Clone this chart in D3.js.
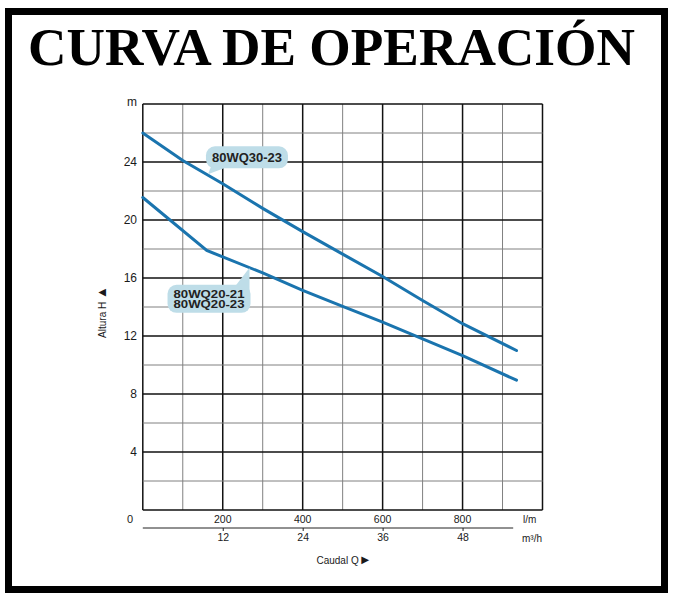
<!DOCTYPE html>
<html>
<head>
  <meta charset="utf-8">
  <title>Curva de operación</title>
  <style>
    body { margin: 0; background: #fff; }
    text { font-family: "Liberation Sans", Arial, sans-serif; fill: #1a1a1a; }
  </style>
</head>
<body>
<svg width="675" height="600" class="svg-chart"></svg>
<script src="https://cdnjs.cloudflare.com/ajax/libs/d3/7.8.5/d3.min.js"></script>
<script type="text/javascript">
  // curve data, flow in l/min, head in m
  var q30 = [0, 100, 200, 300, 400, 500, 600, 700, 800, 935]
  var h30 = [26.0, 24.1, 22.5, 20.8, 19.2, 17.65, 16.1, 14.45, 12.85, 11.0]
  var q20 = [0, 160, 200, 300, 400, 500, 600, 700, 800, 935]
  var h20 = [21.55, 17.9, 17.45, 16.35, 15.15, 14.05, 12.95, 11.8, 10.65, 8.95]

  var lpmTicks = [200, 400, 600, 800]
  var m3hTicks = [12, 24, 36, 48]
  var headTicks = [4, 8, 12, 16, 20, 24]

  var svg = d3.select('.svg-chart')

  // outer frame
  svg.append('rect')
    .attr('x', 8.5).attr('y', 11.5)
    .attr('width', 656).attr('height', 578)
    .attr('fill', 'none').attr('stroke', '#000').attr('stroke-width', 7)

  svg.append('text')
    .attr('x', 28).attr('y', 65)
    .attr('textLength', 607).attr('lengthAdjust', 'spacingAndGlyphs')
    .style('font-family', '"Liberation Serif", "Times New Roman", serif')
    .style('font-weight', 'bold').style('font-size', '53px').style('fill', '#000')
    .text('CURVA DE OPERACIÓN')

  var x = d3.scaleLinear().domain([0, 1000]).range([142.8, 542.5])
  var xm3 = d3.scaleLinear().domain([0, 60]).range([142.8, 542.5])
  var y = d3.scaleLinear().domain([0, 28]).range([510, 104])

  // grid
  var g = svg.append('g')
  g.selectAll('.vgrid')
    .data(d3.range(0, 1001, 100))
    .enter().append('line')
    .attr('x1', function(d){ return x(d) }).attr('x2', function(d){ return x(d) })
    .attr('y1', y(0)).attr('y2', y(28))
    .attr('stroke', function(d){ return d % 200 === 0 ? '#111' : '#808080' })
    .attr('stroke-width', function(d){ return d % 200 === 0 ? 1.5 : 1 })
  g.selectAll('.hgrid')
    .data(d3.range(0, 29, 2))
    .enter().append('line')
    .attr('x1', x(0)).attr('x2', x(1000))
    .attr('y1', function(d){ return y(d) }).attr('y2', function(d){ return y(d) })
    .attr('stroke', function(d){ return d % 4 === 0 ? '#111' : '#808080' })
    .attr('stroke-width', function(d){ return d % 4 === 0 ? 1.5 : 1 })

  // y labels
  svg.selectAll('.ylab')
    .data(headTicks)
    .enter().append('text')
    .attr('x', 137).attr('y', function(d){ return y(d) + 4 })
    .attr('text-anchor', 'end').style('font-size', '12px')
    .text(function(d){ return d })
  svg.append('text').attr('x', 137).attr('y', 106)
    .attr('text-anchor', 'end').style('font-size', '12px').text('m')
  svg.append('text').attr('x', 130).attr('y', 523)
    .attr('text-anchor', 'middle').style('font-size', '11px').text('0')

  // l/min labels
  svg.selectAll('.xlab')
    .data(lpmTicks)
    .enter().append('text')
    .attr('x', function(d){ return x(d) }).attr('y', 523)
    .attr('text-anchor', 'middle').style('font-size', '10.5px')
    .text(function(d){ return d })
  svg.append('text').attr('x', 523).attr('y', 523)
    .style('font-size', '10px').text('l/m')

  // m3/h axis
  var ax2 = svg.append('g').attr('transform', 'translate(0,528)')
    .call(d3.axisBottom(xm3).tickValues(m3hTicks).tickSize(3).tickPadding(3))
  ax2.select('.domain').remove()
  ax2.selectAll('line').attr('stroke', '#222')
  ax2.selectAll('text').style('font-size', '10.5px').style('font-family', '"Liberation Sans", Arial, sans-serif').attr('fill', '#1a1a1a')
  ax2.append('line').attr('x1', xm3(0)).attr('x2', xm3(55.6))
    .attr('stroke', '#222').attr('stroke-width', 1)
  svg.append('text').attr('x', 522).attr('y', 542)
    .style('font-size', '10px').text('m³/h')

  var qLab = svg.append('text').attr('x', 344).attr('y', 564)
    .attr('text-anchor', 'middle').style('font-size', '10px')
  qLab.append('tspan').text('Caudal  Q')
  qLab.append('tspan').style('font-size', '13px').text('►')
  var hLab = svg.append('text')
    .attr('transform', 'translate(106,312) rotate(-90)')
    .attr('text-anchor', 'middle').style('font-size', '10px')
  hLab.append('tspan').text('Altura  H  ')
  hLab.append('tspan').style('font-size', '13px').text('▲')

  // curves
  var line = d3.line()
    .x(function(d){ return x(d[0]) })
    .y(function(d){ return y(d[1]) })
  var curves = [d3.zip(q30, h30), d3.zip(q20, h20)]
  svg.selectAll('.curve')
    .data(curves)
    .enter().append('path')
    .attr('d', line)
    .attr('fill', 'none').attr('stroke', '#1a74ae')
    .attr('stroke-width', 3).attr('stroke-linecap', 'round')

  // callouts: tail tip sits on the curve
  function bubble(tipQ, tipH, bx, by, bw, bh, tail, lines, fs){
    var tx = x(tipQ), ty = y(tipH)
    var left = tx + bx, top = ty + by
    var grp = svg.append('g')
    grp.append('rect')
      .attr('x', left).attr('y', top).attr('width', bw).attr('height', bh)
      .attr('rx', 9).attr('fill', '#bedde8')
    grp.append('path')
      .attr('d', 'M' + (tx + tail[0]) + ',' + (ty + tail[1]) + 'L' + tx + ',' + ty +
                 'L' + (tx + tail[2]) + ',' + (ty + tail[3]) + 'Z')
      .attr('fill', '#bedde8')
    var step = fs - 0.5
    lines.forEach(function(t, i){
      grp.append('text')
        .attr('x', left + bw / 2)
        .attr('y', top + bh / 2 + (i - (lines.length - 1) / 2) * step + fs * 0.36)
        .attr('text-anchor', 'middle')
        .style('font-size', fs + 'px').style('font-weight', 'bold').style('fill', '#222')
        .attr('textLength', bw - 12).attr('lengthAdjust', 'spacingAndGlyphs')
        .text(t)
    })
  }
  bubble(163, 23.15, -2, -28, 82, 22, [4, -10, 16, -6], ['80WQ30-23'], 12)
  bubble(267, 16.7, -82, 17, 83, 28, [-14, 18, 0, 24], ['80WQ20-21', '80WQ20-23'], 11)
</script>
</body>
</html>
